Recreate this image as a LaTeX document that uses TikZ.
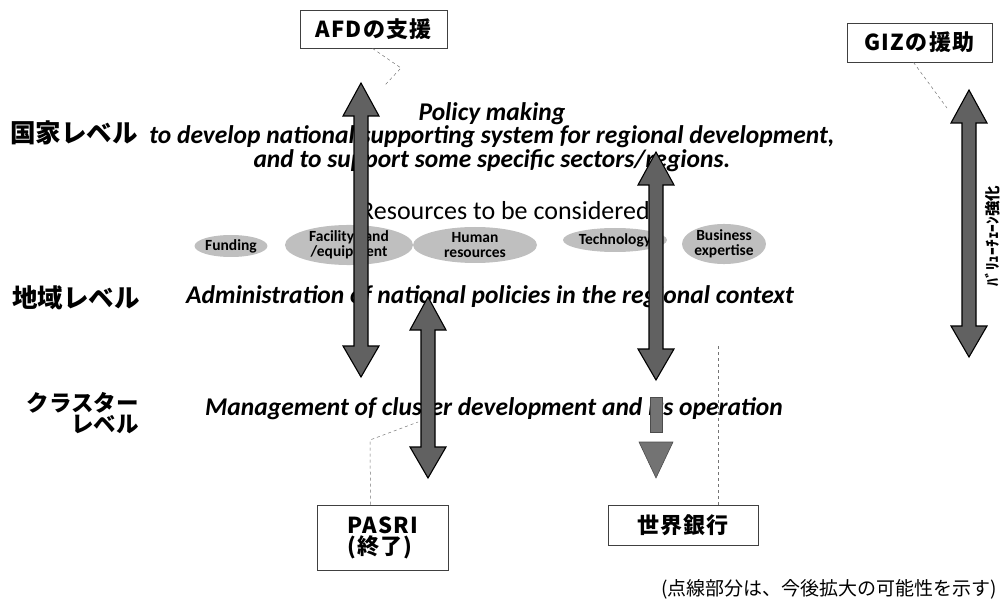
\documentclass[tikz,border=0pt]{standalone}
\usepackage{fontspec}
\setmainfont{Carlito}
\newfontfamily\jpfont{Noto Sans CJK JP}
\newfontfamily\jpwide{Noto Sans CJK JP}[LetterSpace=6]
\usetikzlibrary{shapes.geometric}

\begin{document}
\begin{tikzpicture}[x=1pt,y=-1pt,
  lvl/.style={font=\jpfont\bfseries\fontsize{25.5}{21}\selectfont, inner sep=0pt},
  desc/.style={font=\bfseries\itshape\fontsize{25.5}{20}\selectfont, align=center, inner sep=0pt},
  res/.style={ellipse, fill=gray!50, inner sep=0pt, text=black,
              font=\bfseries\fontsize{15.5}{15}\selectfont, align=center},
  donor/.style={draw=black!75, line width=0.8pt, inner sep=0pt,
                font=\jpwide\bfseries\fontsize{22}{21}\selectfont},
  bigarrow/.style={fill=black!62, draw=black, line width=1.1pt, line join=miter},
  ghost/.style={fill=black!55, draw=black!70, line width=0.6pt},
  link/.style={draw=black!55, line width=0.5pt, dash pattern=on 3pt off 3pt}
]
\useasboundingbox (0,0) rectangle (1002,604);

% level labels on the left
\node[lvl] (national) at (74,133) {国家レベル};
\node[lvl] (regional) at (76,298) {地域レベル};
\node[lvl, align=right, anchor=east, font=\jpfont\bfseries\fontsize{22.5}{21}\selectfont]
  (cluster) at (139,413) {クラスター\\レベル};

% resource blobs
\node[res, minimum width=70, minimum height=22] (funding) at (231,246) {Funding};
\node[res, minimum width=128, minimum height=36] (facility) at (349,245) {Facility, land\\/equipment};
\node[res, minimum width=124, minimum height=36] (human) at (475,245) {Human\\resources};
\node[res, minimum width=104, minimum height=24] (tech) at (615,240) {Technology};
\node[res, minimum width=72, minimum height=34] (business) at (724,244) {Business\\expertise};

% level descriptions
\node[desc] (policy) at (492,137) {Policy making\\to develop national supporting system for regional development,\\and to support some specific sectors/regions.};
\node[font=\fontsize{26}{26}\selectfont, inner sep=0pt] (resources) at (505,211) {Resources to be considered};
\node[desc] (admin) at (490,297) {Administration of national policies in the regional context};
\node[desc] (manage) at (494,409) {Management of cluster development and its operation};

% donor boxes
\node[donor, minimum width=147, minimum height=38] (afd) at (373.5,29) {AFDの支援};
\node[donor, minimum width=145, minimum height=39] (giz) at (919.5,42.5) {GIZの援助};
\node[donor, minimum width=131, minimum height=65, align=left] (pasri) at (382.5,537.5) {PASRI\\(終了)};
\node[donor, minimum width=150, minimum height=40] (wb) at (683,525) {世界銀行};

% footnote and value chain label
\node[font=\jpfont\fontsize{19}{20}\selectfont, inner sep=0pt] (note) at (829,589) {(点線部分は、今後拡大の可能性を示す)};
\node[font=\jpfont\bfseries\fontsize{15.5}{16}\selectfont, inner sep=0pt, rotate=90] (vc) at (993,236) {ﾊﾞﾘｭｰﾁｪｰﾝ強化};

% dashed links from donors to the arrows they support
\coordinate (afdbend) at (401,68);
\coordinate (afdend) at (385,85);
\coordinate (gizend) at (947,108);
\coordinate (pasribend) at (370,440);
\coordinate (pasriend) at (418,422);
\coordinate (wbend) at (718,345);
\draw[link] ([xshift=-1pt]afd.south) -- (afdbend) -- (afdend);
\draw[link] ([xshift=-6pt]giz.south) -- (gizend);
\draw[link] ([xshift=-12pt]pasri.north) -- (pasribend) -- (pasriend);
\draw[link] (wb.north -| wbend) -- (wbend);

% double-headed vertical arrows: centre x / top / bottom
\foreach \c/\t/\b in {361/83/377, 428/297/478, 656/152/380, 969/90/357}{
  \draw[bigarrow] (\c,\t) -- ({\c+18},{\t+33}) -- ({\c+7},{\t+33})
    -- ({\c+7},{\b-31}) -- ({\c+18},{\b-31}) -- (\c,\b) -- ({\c-18},{\b-31})
    -- ({\c-7},{\b-31}) -- ({\c-7},{\t+33}) -- ({\c-18},{\t+33}) -- cycle;
}
% dashed extension of the third arrow
\draw[ghost] (650,397) rectangle (662,432);
\draw[ghost] (639,442) -- (673,442) -- (656,478) -- cycle;
\end{tikzpicture}
\end{document}
